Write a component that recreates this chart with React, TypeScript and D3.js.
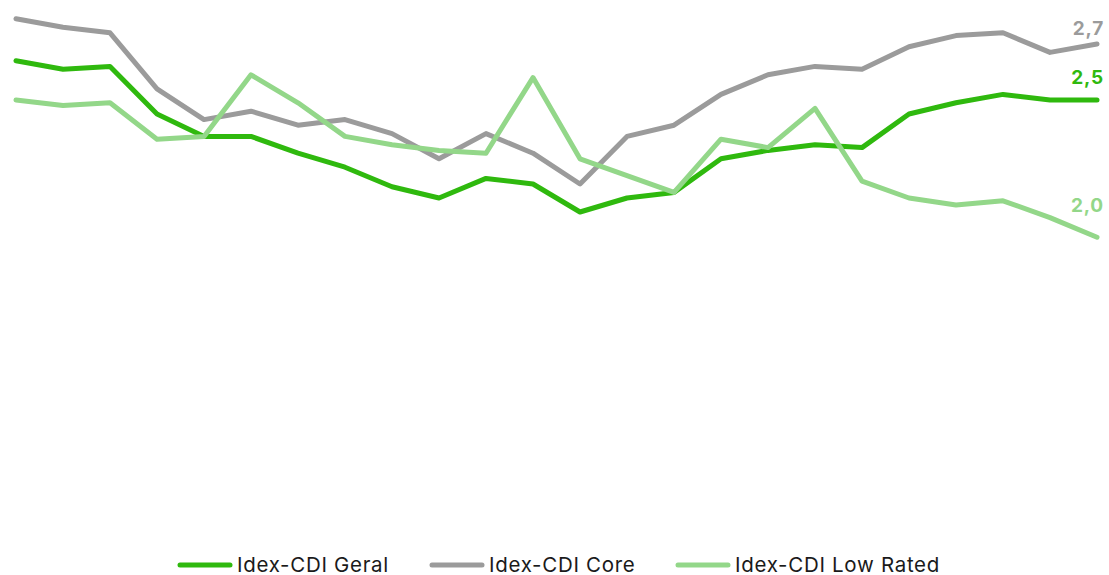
import React from "react";
import * as d3 from "d3";

const periods = d3.range(24).map((i) => `P${i + 1}`);

const geral = [2.64, 2.61, 2.62, 2.45, 2.37, 2.37, 2.31, 2.26, 2.19, 2.15, 2.22, 2.2, 2.1, 2.15, 2.17, 2.29, 2.32, 2.34, 2.33, 2.45, 2.49, 2.52, 2.5, 2.5];
const core = [2.79, 2.76, 2.74, 2.54, 2.43, 2.46, 2.41, 2.43, 2.38, 2.29, 2.38, 2.31, 2.2, 2.37, 2.41, 2.52, 2.59, 2.62, 2.61, 2.69, 2.73, 2.74, 2.67, 2.7];
const lowRated = [2.5, 2.48, 2.49, 2.36, 2.37, 2.59, 2.49, 2.37, 2.34, 2.32, 2.31, 2.58, 2.29, 2.23, 2.17, 2.36, 2.33, 2.47, 2.21, 2.15, 2.125, 2.14, 2.08, 2.01];

const seriesNames = ["Idex-CDI Geral", "Idex-CDI Core", "Idex-CDI Low Rated"];
const seriesColors = ["#2fb90e", "#9b9b9b", "#93d789"];
const labelOffsets = [16, 9, 25];

export default function App() {
  const W = 1109;
  const H = 575;
  const x = d3.scalePoint<string>().domain(periods).range([16, 1097]);
  const y = d3.scaleLinear().domain([1.0, 2.85]).range([520, 2]);
  const line = d3
    .line<number>()
    .x((_, i) => x(periods[i]) as number)
    .y((d) => y(d));
  const all = [geral, core, lowRated];
  const fmt = (v: number) => d3.format(".1f")(v).replace(".", ",");
  const legendX = [178, 430, 676];
  const font = "Inter, 'Open Sans', sans-serif";
  return (
    <svg width={W} height={H} style={{ position: "absolute", left: 0, top: 0 }}>
      {all.map((s, k) => (
        <path
          key={k}
          d={line(s) || ""}
          fill="none"
          stroke={seriesColors[k]}
          strokeWidth={5}
          strokeLinejoin="round"
          strokeLinecap="round"
        />
      ))}
      {all.map((s, k) => (
        <text
          key={"l" + k}
          x={1104}
          y={y(s[s.length - 1]) - labelOffsets[k]}
          textAnchor="end"
          fontFamily={font}
          fontWeight={700}
          fontSize={19}
          letterSpacing={0.8}
          fill={seriesColors[k]}
        >
          {fmt(s[s.length - 1])}
        </text>
      ))}
      {seriesNames.map((n, k) => (
        <g key={"g" + k} transform={`translate(${legendX[k]},565)`}>
          <line x1={2} x2={52} y1={0} y2={0} stroke={seriesColors[k]} strokeWidth={5} strokeLinecap="round" />
          <text x={59} y={6.5} fontFamily={font} fontWeight={400} fontSize={20.5} letterSpacing={0.7} fill="#1a1a1a">
            {n}
          </text>
        </g>
      ))}
    </svg>
  );
}
